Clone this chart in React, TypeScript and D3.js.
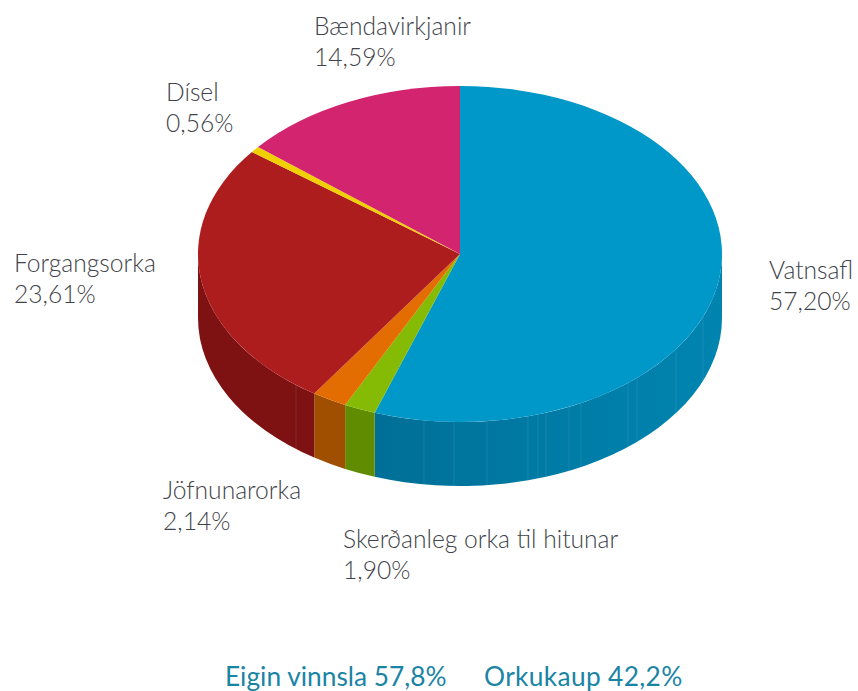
import React from "react";
import * as d3 from "d3";

const names = ["Vatnsafl", "Skerðanleg orka til hitunar", "Jöfnunarorka", "Forgangsorka", "Dísel", "Bændavirkjanir"];
const values = [57.2, 1.9, 2.14, 23.61, 0.56, 14.59];
const topColors = ["#0097c9", "#85bb05", "#e36d00", "#ae1d1e", "#f0d000", "#d2246f"];
const sideColors = ["url(#blueSide)", "#5f8c00", "#a04f00", "#7e1212", "#b09800", "#9a1a52"];
const summary = ["Eigin vinnsla 57,8%", "Orkukaup 42,2%"];

const width = 858;
const height = 691;
const cx = 460;
const cy = 254;
const rx = 262;
const ry = 168;
const depth = 64;

// label anchors, same order as names
const labelPos = [
  [769, 279],
  [343, 548],
  [163, 499],
  [14, 272],
  [166, 101],
  [314, 35],
];
// faint facet lines on the wall of the pie
const seamsX = [296, 424, 454, 487, 528, 538, 546, 569, 581, 628, 637, 676, 703];

const pie = d3.pie<number>().value((d) => d).sort(null);
const slices = pie(values);

// the tilted pie in the picture squeezes the angles a bit at the front
const toDeg = 180 / Math.PI;
const warp = d3
  .scaleLinear()
  .domain([0, ...slices.map((s) => s.endAngle * toDeg)])
  .range([0, 199, 206, 213.8, 307.4, 309.6, 360]);
const drawn = slices.map((s) => ({
  startAngle: (warp(s.startAngle * toDeg) as number) / toDeg,
  endAngle: (warp(s.endAngle * toDeg) as number) / toDeg,
}));

const arc = d3.arc<any>().innerRadius(0).outerRadius(rx);
const fmt = d3.format(".2f");

const px = (a: number) => cx + rx * Math.sin(a);
const py = (a: number) => cy - ry * Math.cos(a);

function sidePath(a0: number, a1: number) {
  const from = Math.max(a0, Math.PI / 2);
  const to = Math.min(a1, (3 * Math.PI) / 2);
  if (to <= from) return null;
  return (
    `M${px(from)},${py(from)}` +
    `A${rx},${ry} 0 0 1 ${px(to)},${py(to)}` +
    `L${px(to)},${py(to) + depth}` +
    `A${rx},${ry} 0 0 0 ${px(from)},${py(from) + depth}Z`
  );
}

const seamY = (x: number) => cy + ry * Math.sqrt(1 - ((x - cx) / rx) ** 2);

export default function App() {
  return (
    <svg
      width={width}
      height={height}
      style={{ position: "absolute", left: 0, top: 0, background: "#fff" }}
      fontFamily="Lato, 'Open Sans', sans-serif"
    >
      <defs>
        <linearGradient id="blueSide" gradientUnits="userSpaceOnUse" x1={375} x2={722} y1={0} y2={0}>
          <stop offset="0" stopColor="#006f97" />
          <stop offset="0.55" stopColor="#007ca6" />
          <stop offset="1" stopColor="#0085b0" />
        </linearGradient>
      </defs>

      {drawn.map((d, i) => {
        const p = sidePath(d.startAngle, d.endAngle);
        return p ? <path key={i} d={p} fill={sideColors[i]} /> : null;
      })}

      {seamsX.map((x) => (
        <line
          key={x}
          x1={x}
          x2={x}
          y1={seamY(x)}
          y2={seamY(x) + depth}
          stroke="#fff"
          strokeOpacity={0.09}
        />
      ))}

      <g transform={`translate(${cx},${cy}) scale(1,${ry / rx})`}>
        {drawn.map((d, i) => (
          <path key={i} d={arc(d) as string} fill={topColors[i]} />
        ))}
      </g>

      <g fontSize={24.6} fontWeight={300} fill="#3f444a">
        {names.map((name, i) => (
          <text key={name} x={labelPos[i][0]} y={labelPos[i][1]}>
            <tspan x={labelPos[i][0]}>{name}</tspan>
            <tspan x={labelPos[i][0]} dy={30.5}>
              {fmt(values[i]).replace(".", ",")}%
            </tspan>
          </text>
        ))}
      </g>

      <g fontSize={26.3} fill="#1a84a5">
        <text x={225} y={686}>{summary[0]}</text>
        <text x={484} y={686} letterSpacing={0.35}>{summary[1]}</text>
      </g>
    </svg>
  );
}
